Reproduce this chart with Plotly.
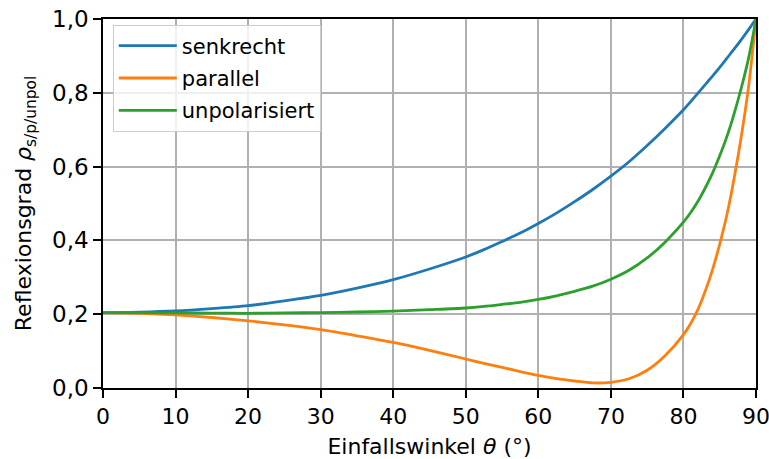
import plotly.graph_objects as go

# Angle of incidence in degrees
angles = [0, 5, 10, 15, 20, 25, 30, 35, 40, 45, 50,
          52.5, 55, 57.5, 60, 62.5, 65, 67.5, 70, 72.5, 75, 77.5, 80,
          81, 82, 83, 84, 85, 86, 87, 88, 89, 90]

# Reflectance for s-polarised (perpendicular) light
senkrecht = [0.204, 0.2055, 0.2087, 0.215, 0.223, 0.236, 0.251, 0.2705, 0.2935, 0.3225, 0.355,
             0.375, 0.397, 0.420, 0.446, 0.474, 0.505, 0.538, 0.574, 0.613, 0.657, 0.704, 0.754,
             0.776, 0.799, 0.822, 0.845, 0.869, 0.894, 0.919, 0.945, 0.972, 1.0]

# Reflectance for p-polarised (parallel) light
parallel = [0.204, 0.2025, 0.198, 0.191, 0.182, 0.171, 0.158, 0.1415, 0.1235, 0.102, 0.0786,
            0.067, 0.056, 0.0445, 0.034, 0.0255, 0.019, 0.0138, 0.0155, 0.025, 0.048, 0.088, 0.1445,
            0.175, 0.213, 0.262, 0.320, 0.390, 0.470, 0.570, 0.685, 0.820, 1.0]

# Reflectance for unpolarised light
unpolarisiert = [0.204, 0.204, 0.2034, 0.203, 0.2025, 0.2035, 0.2045, 0.206, 0.2085, 0.2123, 0.2168,
                 0.221, 0.2265, 0.2323, 0.240, 0.2498, 0.262, 0.2759, 0.2948, 0.319, 0.3525, 0.396, 0.4493,
                 0.4755, 0.506, 0.542, 0.5825, 0.6295, 0.682, 0.7445, 0.815, 0.896, 1.0]

y_ticks = [0.0, 0.2, 0.4, 0.6, 0.8, 1.0]
y_tick_labels = ["0,0", "0,2", "0,4", "0,6", "0,8", "1,0"]
x_ticks = [0, 10, 20, 30, 40, 50, 60, 70, 80, 90]

series = [
    ("senkrecht", senkrecht, "#1f77b4"),
    ("parallel", parallel, "#ff7f0e"),
    ("unpolarisiert", unpolarisiert, "#2ca02c"),
]

FONT = "DejaVu Sans"
TITLE_FONT = dict(family=FONT, size=22, color="black")

fig = go.Figure()
for name, values, color in series:
    fig.add_trace(go.Scatter(
        x=angles, y=values, name=name, legendgroup=name, mode="lines",
        line=dict(color=color, width=2.8, shape="spline", smoothing=0.8),
    ))

axis_common = dict(
    showline=True, mirror=True, linecolor="black", linewidth=1.6,
    ticks="outside", ticklen=8, tickwidth=1.6, tickcolor="black",
    showgrid=True, gridcolor="#b0b0b0", gridwidth=1.6,
    zeroline=False,
    ticklabeloverflow="allow",
    automargin=False,
)

fig.update_layout(
    width=769, height=459,
    margin=dict(l=103, r=13, t=19, b=71),
    paper_bgcolor="white", plot_bgcolor="white",
    font=dict(family=FONT, size=21, color="black"),
    xaxis=dict(
        range=[0, 90], tickvals=x_ticks,
        tickfont=dict(family=FONT, size=22, color="black"),
        title=dict(text="Einfallswinkel <i>θ</i> (°)", font=TITLE_FONT, standoff=12),
        **axis_common,
    ),
    yaxis=dict(
        range=[0, 1], tickvals=y_ticks, ticktext=y_tick_labels,
        tickfont=dict(family=FONT, size=23, color="black"),
        title=dict(text="Reflexionsgrad <i>ρ</i><sub>s/p/unpol</sub>",
                   font=TITLE_FONT, standoff=14),
        **axis_common,
    ),
    legend=dict(
        x=0.015, y=0.985, xanchor="left", yanchor="top",
        bgcolor="rgba(255,255,255,0.8)", bordercolor="#cccccc", borderwidth=1,
        font=dict(family=FONT, size=21, color="black"),
        tracegroupgap=2, itemwidth=58,
    ),
    showlegend=True,
)

fig.write_html("out.html")
